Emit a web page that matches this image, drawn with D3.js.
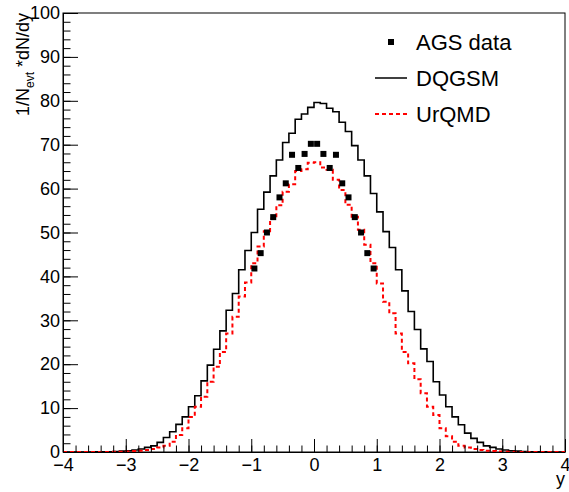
<!DOCTYPE html>
<html>
<head>
<meta charset="utf-8">
<script src="https://cdn.jsdelivr.net/npm/d3@7"></script>
<style>
  body { margin: 0; background: #fff; }
  svg { font-family: "Liberation Sans", Arial, sans-serif; }
</style>
</head>
<body>
<script>
// bin edges: -4.0 .. 4.0, width 0.1 (80 bins), listed by low edge
const binLow = d3.range(80).map((i) => -4 + i * 0.1);

const dqgsm = [
  0, 0, 0, 0, 0.01, 0.02, 0.04, 0.07, 0.12, 0.2,
  0.3, 0.45, 0.7, 1.05, 1.4, 2.2, 3.3, 4.6, 6.3, 8.0,
  10.3, 12.8, 16.2, 19.8, 23.4, 27.6, 32.3, 36.1, 41.5, 45.9,
  50.0, 55.3, 59.2, 62.9, 66.5, 70.5, 72.6, 75.8, 77.0, 78.5,
  79.6, 79.4, 78.3, 77.5, 75.1, 73.0, 69.8, 66.5, 62.9, 58.9,
  54.7, 50.2, 46.6, 41.5, 36.7, 32.0, 27.9, 23.5, 20.6, 16.0,
  13.0, 10.3, 8.0, 6.2, 4.3, 3.1, 2.2, 1.4, 1.05, 0.7,
  0.45, 0.3, 0.2, 0.12, 0.07, 0.04, 0.02, 0.01, 0, 0
];

const urqmd = [
  0, 0, 0, 0, 0, 0, 0.01, 0.02, 0.04, 0.07,
  0.12, 0.2, 0.3, 0.45, 0.7, 1.05, 1.4, 2.35, 3.9, 5.4,
  8.0, 10.3, 12.6, 16.0, 19.4, 22.8, 27.0, 30.8, 35.4, 38.6,
  43.0, 46.8, 50.3, 53.2, 56.2, 59.3, 61.0, 64.0, 64.4, 65.9,
  66.0, 64.8, 64.3, 62.0, 59.7, 56.3, 53.6, 50.6, 47.2, 43.0,
  38.4, 34.2, 31.6, 27.0, 22.8, 20.2, 16.6, 13.4, 10.3, 8.4,
  5.4, 3.6, 2.35, 1.4, 1.05, 0.7, 0.45, 0.3, 0.2, 0.12,
  0.07, 0.04, 0.02, 0.01, 0, 0, 0, 0, 0, 0
];

// AGS data points (reflected around y = 0)
const agsY = [-0.95, -0.85, -0.75, -0.65, -0.55, -0.45, -0.35, -0.25, -0.15, -0.05,
  0.05, 0.15, 0.25, 0.35, 0.45, 0.55, 0.65, 0.75, 0.85, 0.95];
const agsVal = [41.8, 45.3, 50.0, 53.5, 58.0, 61.2, 67.7, 64.7, 67.9, 70.2,
  70.2, 67.9, 64.7, 67.7, 61.2, 58.0, 53.5, 50.0, 45.3, 41.8];

const xTicks = [-4, -3, -2, -1, 0, 1, 2, 3, 4];
const yTicks = [0, 10, 20, 30, 40, 50, 60, 70, 80, 90, 100];

const width = 569;
const height = 492;
const padL = 63, padR = 565, padT = 13, padB = 452;

const svg = d3.select("body").append("svg")
  .attr("width", width)
  .attr("height", height);

const x = d3.scaleLinear().domain([-4, 4]).range([padL, padR]);
const y = d3.scaleLinear().domain([0, 100]).range([padB, padT]);

// frame
svg.append("rect")
  .attr("x", padL).attr("y", padT)
  .attr("width", padR - padL).attr("height", padB - padT)
  .attr("fill", "none").attr("stroke", "#000").attr("stroke-width", 1);

// histograms as step outlines
const stepLine = d3.line()
  .x((d) => x(d[0]))
  .y((d) => y(d[1]))
  .curve(d3.curveStepAfter);

function histPoints(vals) {
  const pts = binLow.map((b, i) => [b, vals[i]]);
  pts.push([4, vals[vals.length - 1]]);
  return pts;
}

svg.append("path")
  .attr("d", stepLine(histPoints(dqgsm)))
  .attr("fill", "none").attr("stroke", "#000").attr("stroke-width", 1.6);

svg.append("path")
  .attr("d", stepLine(histPoints(urqmd)))
  .attr("fill", "none").attr("stroke", "#ff0000").attr("stroke-width", 2)
  .attr("stroke-dasharray", "4,3");

// AGS markers
const ms = 6;
svg.append("g").selectAll("rect")
  .data(agsY.map((v, i) => [v, agsVal[i]]))
  .enter().append("rect")
  .attr("x", (d) => x(d[0]) - ms / 2)
  .attr("y", (d) => y(d[1]) - ms / 2)
  .attr("width", ms).attr("height", ms)
  .attr("fill", "#000");

// axes (ticks point inside the frame)
const xMinor = d3.range(-4, 4.001, 0.2).map((v) => +v.toFixed(1));
const yMinor = d3.range(0, 100.001, 2);

svg.append("g")
  .attr("transform", `translate(0,${padB})`)
  .call(d3.axisBottom(x).tickValues(xMinor).tickSize(-6.5).tickSizeOuter(0).tickFormat(""))
  .call((g) => g.select(".domain").remove());

const xAxis = svg.append("g")
  .attr("transform", `translate(0,${padB})`)
  .call(d3.axisBottom(x).tickValues(xTicks).tickSize(-13).tickSizeOuter(0)
    .tickPadding(6).tickFormat((d) => (d < 0 ? "\u2212" + Math.abs(d) : d)));
xAxis.selectAll("text").attr("font-size", 18).attr("fill", "#000")
  .attr("font-family", "Liberation Sans, Arial, sans-serif");

svg.append("g")
  .attr("transform", `translate(${padL},0)`)
  .call(d3.axisLeft(y).tickValues(yMinor).tickSize(-7.5).tickSizeOuter(0).tickFormat(""))
  .call((g) => g.select(".domain").remove());

const yAxis = svg.append("g")
  .attr("transform", `translate(${padL},0)`)
  .call(d3.axisLeft(y).tickValues(yTicks).tickSize(-15).tickSizeOuter(0).tickPadding(3));
yAxis.selectAll("text").attr("font-size", 18).attr("fill", "#000")
  .attr("font-family", "Liberation Sans, Arial, sans-serif");

// axis titles
svg.append("text")
  .attr("x", padR).attr("y", 485)
  .attr("text-anchor", "end")
  .attr("font-size", 18)
  .text("y");

const yTitle = svg.append("text")
  .attr("transform", `translate(29,${padT}) rotate(-90)`)
  .attr("text-anchor", "end")
  .attr("font-size", 18);
yTitle.append("tspan").text("1/N");
yTitle.append("tspan").attr("dy", 5).attr("font-size", 12).text("evt");
yTitle.append("tspan").attr("dy", -5).text(" *dN/dy");

// legend
const legend = svg.append("g").attr("font-size", 22);
const legX = 375, legTextX = 416;

legend.append("rect")
  .attr("x", 391 - ms / 2).attr("y", 42 - ms / 2)
  .attr("width", ms).attr("height", ms).attr("fill", "#000");
legend.append("text").attr("x", legTextX).attr("y", 50).text("AGS data");

legend.append("line")
  .attr("x1", legX).attr("x2", 407).attr("y1", 78).attr("y2", 78)
  .attr("stroke", "#000").attr("stroke-width", 1.5);
legend.append("text").attr("x", legTextX).attr("y", 86).text("DQGSM");

legend.append("line")
  .attr("x1", legX).attr("x2", 407).attr("y1", 114).attr("y2", 114)
  .attr("stroke", "#ff0000").attr("stroke-width", 2).attr("stroke-dasharray", "4,3");
legend.append("text").attr("x", legTextX).attr("y", 122).text("UrQMD");
</script>
</body>
</html>
